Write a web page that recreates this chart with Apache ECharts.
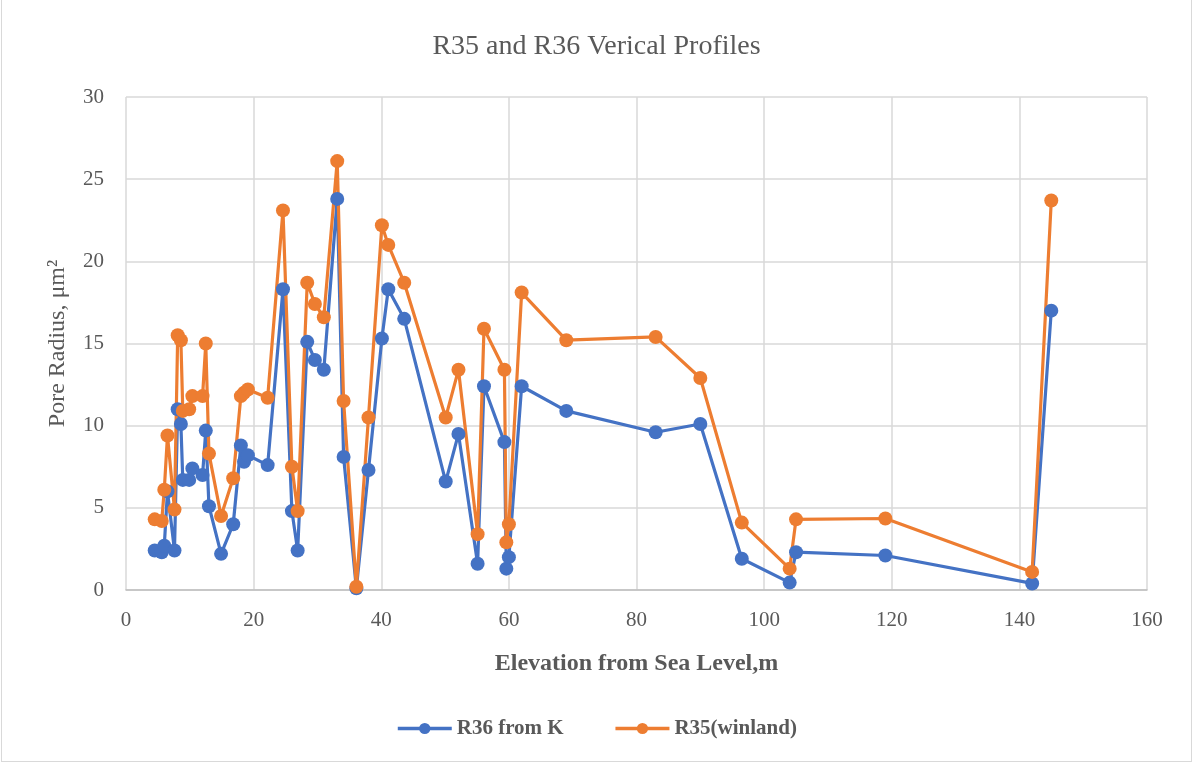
<!DOCTYPE html>
<html style="height: 100%">

<head>
  <meta charset="utf-8" />
  <title>R35 and R36 Verical Profiles</title>
  <script src="https://cdn.jsdelivr.net/npm/echarts@6/dist/echarts.min.js"></script>
</head>

<body style="height: 100%; margin: 0; overflow: hidden; background: #fff">
  <div id="container" style="position: absolute; left: 1px; top: 0; width: 1189px; height: 761px; border: 1px solid #d9d9d9; border-top: none"></div>
  <script>
    // elevation (m) shared by both series
    var elevation = [4.5, 5.6, 6.0, 6.5, 7.6, 8.1, 8.6, 8.9, 9.9, 10.4, 12.0, 12.5, 13.0, 14.9, 16.8,
      18.0, 18.5, 19.1, 22.2, 24.6, 26.0, 26.9, 28.4, 29.6, 31.0, 33.1, 34.1, 36.1, 38.0, 40.1, 41.1,
      43.6, 50.1, 52.1, 55.1, 56.1, 59.3, 59.6, 60.0, 62.0, 69.0, 83.0, 90.0, 96.5, 104.0, 105.0,
      119.0, 142.0, 145.0];
    var r36 = [2.4, 2.3, 2.7, 6.0, 2.4, 11.0, 10.1, 6.7, 6.7, 7.4, 7.0, 9.7, 5.1, 2.2, 4.0,
      8.8, 7.8, 8.2, 7.6, 18.3, 4.8, 2.4, 15.1, 14.0, 13.4, 23.8, 8.1, 0.1, 7.3, 15.3, 18.3,
      16.5, 6.6, 9.5, 1.6, 12.4, 9.0, 1.3, 2.0, 12.4, 10.9, 9.6, 10.1, 1.9, 0.45, 2.3,
      2.1, 0.4, 17.0];
    var r35 = [4.3, 4.2, 6.1, 9.4, 4.9, 15.5, 15.2, 10.9, 11.0, 11.8, 11.8, 15.0, 8.3, 4.5, 6.8,
      11.8, 12.0, 12.2, 11.7, 23.1, 7.5, 4.8, 18.7, 17.4, 16.6, 26.1, 11.5, 0.2, 10.5, 22.2, 21.0,
      18.7, 10.5, 13.4, 3.4, 15.9, 13.4, 2.9, 4.0, 18.1, 15.2, 15.4, 12.9, 4.1, 1.3, 4.3,
      4.35, 1.1, 23.7];

    var pairs = (ys) => elevation.map((x, i) => [x, ys[i]]);

    var dom = document.getElementById("container");
    var myChart = echarts.init(dom, null, { renderer: "canvas" });
    var serif = "Liberation Serif, Times New Roman, serif";
    var txt = "#595959";
    var option = {
      animation: false,
      color: ["#4472C4", "#ED7D31"],
      title: {
        text: "R35 and R36 Verical Profiles",
        left: "center",
        top: 28,
        textStyle: { fontFamily: serif, fontSize: 28, fontWeight: "normal", color: txt },
      },
      legend: {
        bottom: 17,
        left: "center",
        itemWidth: 54,
        itemHeight: 14,
        itemGap: 50,
        lineStyle: { width: 3.5 },
        textStyle: { fontFamily: serif, fontSize: 21, fontWeight: "bold", color: txt },
        data: ["R36 from K", "R35(winland)"],
      },
      grid: { left: 124, right: 44, top: 97, bottom: 171 },
      xAxis: {
        type: "value",
        min: 0,
        max: 160,
        interval: 20,
        name: "Elevation from Sea Level,m",
        nameLocation: "middle",
        nameGap: 62,
        nameTextStyle: { fontFamily: serif, fontSize: 24, fontWeight: "bold", color: txt },
        axisLine: { lineStyle: { color: "#bfbfbf", width: 1.5 } },
        axisTick: { show: false },
        axisLabel: { fontFamily: serif, fontSize: 21, color: txt, margin: 20 },
        splitLine: { lineStyle: { color: "#d9d9d9", width: 1.5 } },
      },
      yAxis: {
        type: "value",
        min: 0,
        max: 30,
        interval: 5,
        name: "Pore Radius, μm²",
        nameLocation: "middle",
        nameGap: 56,
        nameTextStyle: { fontFamily: serif, fontSize: 24, color: txt },
        axisLine: { show: false },
        axisTick: { show: false },
        axisLabel: { fontFamily: serif, fontSize: 21, color: txt, margin: 22 },
        splitLine: { lineStyle: { color: "#d9d9d9", width: 1.5 } },
      },
      series: [
        {
          name: "R36 from K",
          type: "line",
          data: pairs(r36),
          symbol: "circle",
          symbolSize: 14,
          lineStyle: { width: 3.2 },
        },
        {
          name: "R35(winland)",
          type: "line",
          data: pairs(r35),
          symbol: "circle",
          symbolSize: 14,
          lineStyle: { width: 3.2 },
        },
      ],
    };
    myChart.setOption(option);
  </script>
</body>

</html>
